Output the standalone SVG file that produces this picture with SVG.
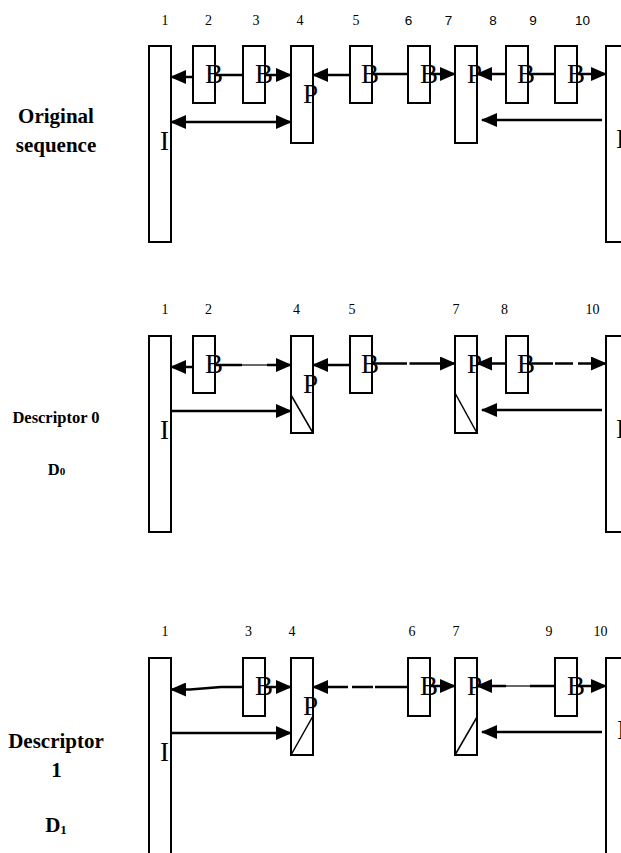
<svg xmlns="http://www.w3.org/2000/svg" width="621" height="853" viewBox="0 0 621 853">
<style>
.bx{fill:none;stroke:#000;stroke-width:2}
.lt{font-family:"Liberation Serif","Times New Roman",serif;font-size:27px;fill:#000}
.ns{font-family:"Liberation Serif","Times New Roman",serif;font-size:14px;fill:#000;text-anchor:middle}
.na{font-family:"Liberation Sans",Arial,sans-serif;font-size:13.5px;fill:#000;text-anchor:middle}
.lb{font-family:"Liberation Serif","Times New Roman",serif;font-weight:bold;fill:#000;text-anchor:middle}
.ln{fill:none;stroke:#000;stroke-width:2.5}
.th{fill:none;stroke:#000;stroke-width:1.2}
.dg{fill:none;stroke:#000;stroke-width:1.5}
.ar{marker-end:url(#ah)}
.da{marker-start:url(#ah);marker-end:url(#ah)}
</style>
<defs>
<marker id="ah" viewBox="0 0 16 14" refX="15" refY="7" markerWidth="16" markerHeight="14" markerUnits="userSpaceOnUse" orient="auto-start-reverse">
<path d="M0,0 L16,7 L0,14 z" fill="#000"/>
</marker>
</defs>

<!-- Row labels -->
<g id="label-original">
<text class="lb" x="56" y="123" font-size="21">Original</text>
<text class="lb" x="56" y="151.5" font-size="21">sequence</text>
</g>
<g id="label-d0">
<text class="lb" x="56" y="423" font-size="16.5">Descriptor 0</text>
<text class="lb" x="56.5" y="475" font-size="16.5">D<tspan font-size="11">0</tspan></text>
</g>
<g id="label-d1">
<text class="lb" x="56" y="748" font-size="21">Descriptor</text>
<text class="lb" x="56.5" y="777" font-size="21">1</text>
<text class="lb" x="56" y="832" font-size="21">D<tspan font-size="13" dy="1.5">1</tspan></text>
</g>

<!-- Frame numbers -->
<g id="numbers">
<text class="ns" x="165" y="25">1</text>
<text class="ns" x="208.5" y="25">2</text>
<text class="ns" x="256" y="25">3</text>
<text class="ns" x="300" y="25">4</text>
<text class="ns" x="356" y="25">5</text>
<text class="na" x="408.5" y="25">6</text>
<text class="na" x="448.5" y="25">7</text>
<text class="na" x="493" y="25">8</text>
<text class="na" x="533" y="25">9</text>
<text class="na" x="582.5" y="25">10</text>

<text class="ns" x="165" y="313.5">1</text>
<text class="ns" x="208.5" y="313.5">2</text>
<text class="ns" x="296.5" y="313.5">4</text>
<text class="ns" x="352" y="313.5">5</text>
<text class="ns" x="456" y="313.5">7</text>
<text class="ns" x="504.5" y="313.5">8</text>
<text class="ns" x="592.5" y="313.5">10</text>

<text class="ns" x="165" y="636">1</text>
<text class="ns" x="248.5" y="636">3</text>
<text class="ns" x="292" y="636">4</text>
<text class="ns" x="412" y="636">6</text>
<text class="ns" x="456" y="636">7</text>
<text class="ns" x="549" y="636">9</text>
<text class="ns" x="600.5" y="636">10</text>
</g>

<!-- Section 1: original sequence -->
<g id="s1-f1"><rect class="bx" x="149" y="46" width="22" height="196"/><text class="lt" x="160" y="150">I</text></g>
<g id="s1-f2"><rect class="bx" x="193" y="46" width="22" height="57"/><text class="lt" x="205" y="83">B</text></g>
<g id="s1-f3"><rect class="bx" x="243" y="46" width="22" height="57"/><text class="lt" x="255" y="83">B</text></g>
<g id="s1-f4"><rect class="bx" x="291" y="46" width="22" height="97"/><text class="lt" x="303" y="103">P</text></g>
<g id="s1-f5"><rect class="bx" x="350" y="46" width="22" height="57"/><text class="lt" x="361" y="83">B</text></g>
<g id="s1-f6"><rect class="bx" x="408" y="46" width="22" height="57"/><text class="lt" x="420" y="83">B</text></g>
<g id="s1-f7"><rect class="bx" x="455" y="46" width="22" height="97"/><text class="lt" x="467" y="83">P</text></g>
<g id="s1-f8"><rect class="bx" x="506" y="46" width="22" height="57"/><text class="lt" x="517" y="83">B</text></g>
<g id="s1-f9"><rect class="bx" x="555" y="46" width="22" height="57"/><text class="lt" x="567" y="83">B</text></g>
<g id="s1-f10"><rect class="bx" x="606" y="46" width="30" height="196"/><text class="lt" x="616" y="148">I</text></g>

<!-- Section 2: descriptor 0 -->
<g id="s2-f1"><rect class="bx" x="149" y="336" width="22" height="196"/><text class="lt" x="160" y="439">I</text></g>
<g id="s2-f2"><rect class="bx" x="193" y="336" width="22" height="57"/><text class="lt" x="205" y="373">B</text></g>
<g id="s2-f4"><rect class="bx" x="291" y="336" width="22" height="97"/><line class="dg" x1="291" y1="395" x2="313" y2="433"/><text class="lt" x="303" y="393">P</text></g>
<g id="s2-f5"><rect class="bx" x="350" y="336" width="22" height="57"/><text class="lt" x="361" y="373">B</text></g>
<g id="s2-f7"><rect class="bx" x="455" y="336" width="22" height="97"/><line class="dg" x1="455" y1="393" x2="477" y2="433"/><text class="lt" x="467" y="373">P</text></g>
<g id="s2-f8"><rect class="bx" x="506" y="336" width="22" height="57"/><text class="lt" x="517" y="373">B</text></g>
<g id="s2-f10"><rect class="bx" x="606" y="336" width="30" height="196"/><text class="lt" x="616" y="438">I</text></g>

<!-- Section 3: descriptor 1 -->
<g id="s3-f1"><rect class="bx" x="149" y="658" width="22" height="200"/><text class="lt" x="160" y="761">I</text></g>
<g id="s3-f3"><rect class="bx" x="243" y="658" width="22" height="58"/><text class="lt" x="255" y="695">B</text></g>
<g id="s3-f4"><rect class="bx" x="291" y="658" width="22" height="97"/><line class="dg" x1="291" y1="755" x2="313" y2="716"/><text class="lt" x="303" y="715">P</text></g>
<g id="s3-f6"><rect class="bx" x="408" y="658" width="22" height="58"/><text class="lt" x="420" y="695">B</text></g>
<g id="s3-f7"><rect class="bx" x="455" y="658" width="22" height="97"/><line class="dg" x1="455" y1="755" x2="477" y2="717"/><text class="lt" x="467" y="695">P</text></g>
<g id="s3-f9"><rect class="bx" x="555" y="658" width="22" height="58"/><text class="lt" x="567" y="695">B</text></g>
<g id="s3-f10"><rect class="bx" x="606" y="658" width="30" height="200"/><text class="lt" x="617" y="739" font-size="17">I</text></g>

<!-- Connectors -->
<g id="connectors">
<!-- section 1 -->
<line class="ln ar" x1="193" y1="77" x2="171" y2="77"/>
<line class="ln" x1="215" y1="75" x2="243" y2="75"/>
<line class="ln ar" x1="265" y1="75" x2="291" y2="75"/>
<line class="ln da" x1="171" y1="122" x2="291" y2="122"/>
<line class="ln ar" x1="350" y1="75" x2="313" y2="75"/>
<line class="ln" x1="372" y1="74" x2="408" y2="74"/>
<line class="ln ar" x1="430" y1="74" x2="455" y2="74"/>
<line class="ln ar" x1="506" y1="74" x2="477" y2="74"/>
<line class="ln" x1="528" y1="74" x2="555" y2="74"/>
<line class="ln ar" x1="577" y1="74" x2="606" y2="74"/>
<line class="ln ar" x1="602" y1="120" x2="482" y2="120"/>

<!-- section 2 -->
<line class="ln ar" x1="193" y1="367" x2="171" y2="367"/>
<line class="ln" x1="215" y1="365" x2="242" y2="365"/>
<line class="th" x1="242" y1="365" x2="268" y2="365"/>
<line class="ln ar" x1="267" y1="365" x2="291" y2="365"/>
<line class="ln ar" x1="171" y1="411" x2="291" y2="411"/>
<line class="ln ar" x1="350" y1="365" x2="313" y2="365"/>
<line class="ln" x1="372" y1="363.5" x2="407" y2="363.5"/>
<line class="ln ar" x1="409.5" y1="363.5" x2="455" y2="363.5"/>
<line class="ln ar" x1="506" y1="363.5" x2="477" y2="363.5"/>
<line class="ln" x1="528" y1="363.5" x2="553" y2="363.5"/>
<line class="ln" x1="555" y1="363.5" x2="573" y2="363.5"/>
<line class="ln ar" x1="578" y1="363.5" x2="606" y2="363.5"/>
<line class="ln ar" x1="602" y1="410" x2="482" y2="410"/>

<!-- section 3 -->
<path class="ln ar" d="M243,687 L221,687 L190,689.5 L171,689.5"/>
<line class="ln ar" x1="265" y1="687" x2="291" y2="687"/>
<line class="ln" x1="408" y1="687" x2="375" y2="687"/>
<line class="ln" x1="373" y1="687" x2="352" y2="687"/>
<line class="ln ar" x1="348" y1="687" x2="313" y2="687"/>
<line class="ln ar" x1="430" y1="686" x2="455" y2="686"/>
<line class="ln" x1="555" y1="686" x2="530" y2="686"/>
<line class="th" x1="530" y1="686" x2="505" y2="686"/>
<line class="ln ar" x1="506" y1="686" x2="477" y2="686"/>
<line class="ln ar" x1="577" y1="686" x2="606" y2="686"/>
<line class="ln ar" x1="171" y1="733" x2="291" y2="733"/>
<line class="ln ar" x1="602" y1="732" x2="482" y2="732"/>
</g>
</svg>
